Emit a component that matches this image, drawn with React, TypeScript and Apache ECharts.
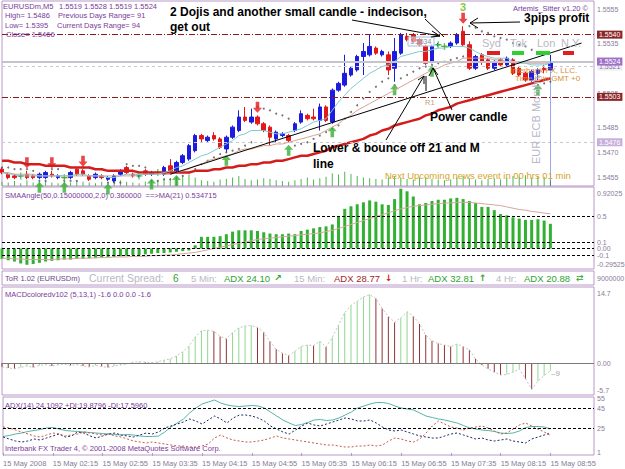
import React, { useEffect, useRef } from 'react';
import * as echarts from 'echarts';

const times = ['01:35','01:40','01:45','01:50','01:55','02:00','02:05','02:10','02:15','02:20','02:25','02:30','02:35','02:40','02:45','02:50','02:55','03:00','03:05','03:10','03:15','03:20','03:25','03:30','03:35','03:40','03:45','03:50','03:55','04:00','04:05','04:10','04:15','04:20','04:25','04:30','04:35','04:40','04:45','04:50','04:55','05:00','05:05','05:10','05:15','05:20','05:25','05:30','05:35','05:40','05:45','05:50','05:55','06:00','06:05','06:10','06:15','06:20','06:25','06:30','06:35','06:40','06:45','06:50','06:55','07:00','07:05','07:10','07:15','07:20','07:25','07:30','07:35','07:40','07:45','07:50','07:55','08:00','08:05','08:10','08:15','08:20','08:25','08:30','08:35','08:40','08:45','08:50','08:55','09:00','09:05','09:10','09:15','09:20','09:25','09:30'];

// [open, close, low, high]
const ohlc = [
[1.5460,1.5458,1.5457,1.5461],[1.5457,1.5455,1.5454,1.5458],[1.5456,1.5455,1.5454,1.5457],[1.5456,1.5456,1.5455,1.5457],[1.5457,1.5455,1.5454,1.5459],
[1.5456,1.5455,1.5454,1.5457],[1.5455,1.5457,1.5454,1.5458],[1.5455,1.5458,1.5454,1.5459],[1.5457,1.5456,1.5455,1.5459],[1.5455,1.5456,1.5454,1.5457],
[1.5455,1.5455,1.5454,1.5456],[1.5455,1.5458,1.5454,1.5459],[1.5460,1.5457,1.5456,1.5461],[1.5459,1.5457,1.5456,1.5460],[1.5456,1.5454,1.5453,1.5457],
[1.5455,1.5457,1.5454,1.5458],[1.5456,1.5455,1.5454,1.5457],[1.5454,1.5455,1.5453,1.5456],[1.5453,1.5456,1.5452,1.5457],[1.5457,1.5459,1.5456,1.5460],
[1.5461,1.5458,1.5457,1.5462],[1.5457,1.5456,1.5455,1.5458],[1.5456,1.5456,1.5455,1.5457],[1.5459,1.5457,1.5456,1.5460],[1.5457,1.5458,1.5456,1.5459],
[1.5458,1.5458,1.5457,1.5459],[1.5457,1.5461,1.5456,1.5462],[1.5462,1.5459,1.5458,1.5466],[1.5459,1.5464,1.5458,1.5465],[1.5464,1.5468,1.5463,1.5469],
[1.5466,1.5474,1.5465,1.5475],[1.5471,1.5480,1.5470,1.5481],[1.5480,1.5478,1.5476,1.5481],[1.5477,1.5479,1.5476,1.5480],[1.5480,1.5478,1.5477,1.5482],
[1.5478,1.5473,1.5472,1.5479],[1.5472,1.5479,1.5470,1.5480],[1.5479,1.5485,1.5478,1.5486],[1.5483,1.5491,1.5482,1.5495],[1.5491,1.5489,1.5488,1.5497],
[1.5488,1.5491,1.5487,1.5496],[1.5491,1.5487,1.5486,1.5492],[1.5487,1.5483,1.5482,1.5488],[1.5485,1.5479,1.5474,1.5486],[1.5478,1.5482,1.5476,1.5483],
[1.5480,1.5481,1.5479,1.5482],[1.5480,1.5477,1.5476,1.5481],[1.5483,1.5487,1.5482,1.5488],[1.5488,1.5493,1.5487,1.5495],[1.5492,1.5490,1.5489,1.5493],
[1.5491,1.5490,1.5489,1.5496],[1.5489,1.5497,1.5483,1.5499],[1.5497,1.5489,1.5488,1.5498],[1.5488,1.5507,1.5487,1.5508],[1.5507,1.5511,1.5506,1.5512],
[1.5510,1.5517,1.5509,1.5528],[1.5516,1.5520,1.5515,1.5521],[1.5519,1.5527,1.5518,1.5528],[1.5527,1.5530,1.5516,1.5535],[1.5528,1.5533,1.5527,1.5540],
[1.5532,1.5529,1.5528,1.5533],[1.5528,1.5530,1.5527,1.5531],[1.5528,1.5519,1.5516,1.5530],[1.5520,1.5530,1.5512,1.5538],[1.5529,1.5540,1.5528,1.5541],
[1.5539,1.5537,1.5536,1.5541],[1.5540,1.5536,1.5535,1.5541],[1.5537,1.5534,1.5533,1.5538],[1.5533,1.5523,1.5522,1.5534],[1.5524,1.5533,1.5523,1.5534],
[1.5534,1.5534,1.5533,1.5535],[1.5533,1.5533,1.5532,1.5534],[1.5533,1.5535,1.5532,1.5536],[1.5535,1.5540,1.5534,1.5541],[1.5542,1.5534,1.5533,1.5545],
[1.5534,1.5520,1.5519,1.5536],[1.5520,1.5527,1.5519,1.5528],[1.5528,1.5524,1.5522,1.5529],[1.5525,1.5520,1.5519,1.5526],[1.5520,1.5524,1.5519,1.5525],
[1.5525,1.5522,1.5521,1.5526],[1.5522,1.5526,1.5521,1.5527],[1.5525,1.5517,1.5516,1.5526],[1.5520,1.5516,1.5515,1.5521],[1.5517,1.5513,1.5512,1.5518],
[1.5513,1.5518,1.5512,1.5519],[1.5517,1.5519,1.5512,1.5520],[1.5520,1.5519,1.5517,1.5522],[1.5519,1.5524,1.5519,1.5528]
];

const dojiIdx = [3, 10, 22, 25, 70, 71];
const buyIdx = [6, 10, 17, 24, 28, 36, 46, 53, 63, 69, 86];
const sellIdx = [4, 8, 13, 41, 74];

const maFast = [1.5458,1.5457,1.5457,1.5456,1.5456,1.5456,1.5456,1.5456,1.5456,1.5456,1.5456,1.5456,1.5457,1.5457,1.5456,1.5456,1.5456,1.5455,1.5455,1.5456,1.5457,1.5457,1.5457,1.5457,1.5457,1.5457,1.5458,1.5459,1.5461,1.5462,1.5464,1.5466,1.5468,1.5469,1.5471,1.5473,1.5475,1.5477,1.5480,1.5481,1.5483,1.5483,1.5483,1.5482,1.5481,1.5481,1.5482,1.5483,1.5484,1.5486,1.5488,1.5489,1.5490,1.5495,1.5500,1.5504,1.5508,1.5511,1.5514,1.5517,1.5519,1.5521,1.5522,1.5524,1.5527,1.5528,1.5529,1.5530,1.5530,1.5531,1.5532,1.5532,1.5533,1.5533,1.5533,1.5532,1.5530,1.5528,1.5527,1.5526,1.5526,1.5526,1.5524,1.5523,1.5523,1.5522,1.5522,1.5522,1.5523];
const maMid = [1.5458,1.5458,1.5457,1.5457,1.5457,1.5457,1.5456,1.5456,1.5456,1.5456,1.5456,1.5456,1.5456,1.5456,1.5456,1.5456,1.5456,1.5456,1.5456,1.5456,1.5456,1.5456,1.5457,1.5457,1.5457,1.5457,1.5457,1.5457,1.5458,1.5459,1.5460,1.5462,1.5463,1.5465,1.5466,1.5467,1.5468,1.5469,1.5471,1.5472,1.5472,1.5473,1.5474,1.5474,1.5475,1.5475,1.5476,1.5477,1.5478,1.5479,1.5480,1.5481,1.5483,1.5485,1.5487,1.5490,1.5492,1.5495,1.5497,1.5499,1.5501,1.5503,1.5505,1.5507,1.5509,1.5511,1.5513,1.5515,1.5517,1.5519,1.5520,1.5522,1.5523,1.5524,1.5526,1.5526,1.5526,1.5526,1.5526,1.5525,1.5525,1.5524,1.5524,1.5524,1.5523,1.5523,1.5523,1.5523,1.5523];
const maSlow = [1.5465,1.5465,1.5464,1.5464,1.5463,1.5463,1.5463,1.5462,1.5462,1.5462,1.5462,1.5461,1.5461,1.5461,1.5461,1.5460,1.5460,1.5459,1.5459,1.5459,1.5459,1.5459,1.5458,1.5458,1.5458,1.5458,1.5458,1.5458,1.5458,1.5458,1.5458,1.5459,1.5459,1.5459,1.5460,1.5460,1.5461,1.5461,1.5462,1.5462,1.5463,1.5463,1.5464,1.5464,1.5465,1.5465,1.5466,1.5467,1.5468,1.5468,1.5469,1.5470,1.5471,1.5473,1.5474,1.5475,1.5476,1.5477,1.5478,1.5480,1.5481,1.5483,1.5484,1.5486,1.5487,1.5488,1.5489,1.5490,1.5492,1.5493,1.5495,1.5496,1.5497,1.5499,1.5500,1.5501,1.5502,1.5503,1.5504,1.5505,1.5506,1.5507,1.5508,1.5509,1.5510,1.5511,1.5512,1.5513,1.5514];
const psar = [1.5461,1.5461,1.5460,1.5460,1.5460,1.5459,1.5453,1.5453,1.5460,1.5460,1.5453,1.5453,1.5453,1.5461,1.5461,1.5460,1.5460,1.5452,1.5452,1.5452,1.5463,1.5462,1.5462,1.5461,1.5453,1.5453,1.5454,1.5454,1.5455,1.5456,1.5458,1.5460,1.5463,1.5465,1.5467,1.5469,1.5470,1.5471,1.5472,1.5474,1.5476,1.5497,1.5496,1.5495,1.5493,1.5492,1.5490,1.5474,1.5475,1.5476,1.5478,1.5480,1.5482,1.5484,1.5486,1.5490,1.5494,1.5498,1.5502,1.5506,1.5509,1.5512,1.5514,1.5510,1.5514,1.5516,1.5518,1.5520,1.5521,1.5522,1.5523,1.5524,1.5525,1.5526,1.5527,1.5545,1.5544,1.5542,1.5541,1.5539,1.5538,1.5537,1.5535,1.5534,1.5533,1.5531,1.5510,1.5511,1.5512];
const volume = [6,5,7,4,8,5,6,7,5,4,6,5,7,6,5,4,6,5,7,8,6,5,4,6,7,8,9,10,12,14,16,12,8,7,6,9,10,12,14,10,8,9,11,10,8,7,6,8,10,12,9,11,13,18,16,20,17,14,12,11,10,9,12,14,11,10,9,12,13,10,9,8,9,12,14,11,9,8,10,11,9,12,14,13,15,12,14,13,8];

const smaAngle = [-0.16,-0.18,-0.20,-0.23,-0.25,-0.24,-0.22,-0.20,-0.19,-0.18,-0.17,-0.17,-0.16,-0.16,-0.15,-0.15,-0.14,-0.13,-0.13,-0.12,-0.11,-0.10,-0.10,-0.09,-0.08,-0.07,-0.07,-0.06,-0.05,-0.04,-0.03,0.05,0.18,0.18,0.18,0.19,0.22,0.26,0.28,0.28,0.28,0.27,0.25,0.23,0.22,0.22,0.23,0.22,0.27,0.29,0.31,0.33,0.34,0.37,0.50,0.61,0.65,0.68,0.71,0.74,0.72,0.68,0.67,0.76,0.92,0.88,0.80,0.68,0.70,0.73,0.75,0.75,0.77,0.78,0.76,0.73,0.70,0.64,0.64,0.59,0.53,0.51,0.48,0.46,0.44,0.44,0.45,0.43,0.38];
const smaAngleMA = [-0.15,-0.15,-0.16,-0.16,-0.17,-0.17,-0.17,-0.17,-0.17,-0.16,-0.16,-0.16,-0.15,-0.15,-0.15,-0.14,-0.14,-0.14,-0.13,-0.13,-0.13,-0.12,-0.12,-0.12,-0.11,-0.11,-0.10,-0.10,-0.09,-0.08,-0.07,-0.06,-0.04,-0.02,0.00,0.02,0.04,0.06,0.08,0.10,0.12,0.14,0.15,0.16,0.17,0.18,0.19,0.20,0.21,0.22,0.23,0.24,0.26,0.28,0.31,0.34,0.37,0.40,0.43,0.46,0.49,0.52,0.55,0.58,0.61,0.63,0.65,0.66,0.67,0.68,0.69,0.70,0.70,0.71,0.71,0.71,0.70,0.69,0.68,0.67,0.66,0.64,0.62,0.60,0.59,0.57,0.56,0.545,0.535];
const smaTicks = ['0.92025', '0.5', '0.1', '0.00', '-0.1', '-0.29525'];

const macd = [-0.8,-1.0,-1.2,-0.9,-0.6,-0.9,-0.5,-0.3,-0.6,-0.4,-0.2,-0.5,-0.3,-0.6,-0.8,-0.5,-0.7,-0.9,-0.6,-0.4,-0.2,0.2,0.3,0.2,0.1,0.3,0.6,0.9,1.5,2.4,3.6,5.5,6.8,6.9,6.7,5.6,5.1,6.4,7.4,7.8,7.9,7.5,6.5,4.6,2.9,2.1,1.6,2.5,3.5,3.8,3.7,4.6,3.4,5.4,8.0,10.6,12.1,13.0,13.9,14.4,13.6,11.5,9.8,8.6,9.5,10.8,9.9,8.2,5.9,4.7,4.1,3.8,3.5,4.0,3.5,2.8,0.9,-0.4,-1.2,-1.9,-2.5,-2.4,-1.9,-1.2,-3.3,-5.5,-3.8,-2.6,-1.6];

const adx = [16.5,17.5,19,20,21.5,22.5,23.5,25,25.5,24,22.5,22,21.5,21,20.5,20,19.5,19,18.5,18,18.5,18,17,16.5,16.5,17,21,26,30,34,40,45,49,51,53,50,48,47,46.5,47,47.5,47,45,41,37,33,30,27.5,28.5,30.5,33,33.5,32.5,33,35,38,41,45,47,49,50.5,50.5,49.5,47,45,44,43,40,37,35.5,34,33,31.5,30,27.5,25,24,23,22.5,21.5,20,19.5,20,22,25.5,26.5,26.5,26,24.1];
const plusDI = [16,14,12,11,12,14,13,15,17,19,16,17,21,20,17,15,17,19,20,18,17,16,18,20,19,21,25,27,29,31,34,32,29,33,37,34,30,35,38,38,37,35,32,27,24,21,19,23,27,30,28,27,29,31,33,35,34,32,32,33,30,26,23,22,23,21,19,17,16,15,15,17,19,20,18,16,14,15,13,12,13,14,12,11,10,14,16,18,19.9];
const minusDI = [26,25,23,21,19,17,16,18,20,19,17,18,19,21,20,19,18,19,17,16,14,12,11,10,11,10,9,8,7,7,6,6,7,9,15,18,15,13,12,11,11,12,13,15,17,15,14,13,12,11,10,9,8,8,7,6,6,7,7,8,7,8,12,15,14,12,11,14,20,27,32,29,26,25,23,25,26,27,25,22,19,20,24,28,30,27,24,21,17.6];

const priceTicks = ['1.5555', '1.5535', '1.5505', '1.5485', '1.5470', '1.5455'];

const FONT = 'Liberation Sans';
const AX = '#8a7a9a';
const BORDER = '#b898c8';
const PURPLE = '#7a3a9a';
const RISE = '#8ed88e';
const FALL = '#8e3434';
const CLEAR = 'rgba(0,0,0,0)';

function txt(x: number, y: number, text: string, fontSize: number, fill: string, extra: any = {}) {
  return { type: 'text', x, y, z: 100, silent: true, style: { text, fontSize, fill, fontFamily: FONT, verticalAlign: 'middle', align: 'left', ...extra } };
}
function seg(x1: number, y1: number, x2: number, y2: number, stroke = '#000') {
  return { type: 'line', z: 100, silent: true, shape: { x1, y1, x2, y2 }, style: { stroke, lineWidth: 1 } };
}
function poly(points: number[][], stroke = '#000') {
  return { type: 'polyline', z: 100, silent: true, shape: { points }, style: { stroke, lineWidth: 1, fill: null } };
}
function box(x: number, y: number, width: number, height: number, fill: string, stroke: any = null) {
  return { type: 'rect', z: 99, silent: true, shape: { x, y, width, height }, style: { fill, stroke } };
}

const grids = [
  { left: 2, top: 1, width: 592, height: 185 },
  { left: 2, top: 187, width: 592, height: 82 },
  { left: 2, top: 287, width: 592, height: 108 },
  { left: 2, top: 397, width: 592, height: 58 },
].map(g => ({ ...g, show: true, borderColor: BORDER, borderWidth: 1, backgroundColor: '#fff' }));

const every8 = (i: number) => i % 8 === 0 && i <= 88;

const xAxes = [0, 1, 2, 3].map(gi => ({
  type: 'category', gridIndex: gi, data: times, boundaryGap: false,
  axisLine: { show: false }, splitLine: { show: false },
  axisTick: gi === 3 ? { show: true, interval: every8, length: 3, lineStyle: { color: BORDER } } : { show: false },
  axisLabel: gi === 3 ? {
    show: true, interval: every8, align: 'left', margin: 4, color: AX, fontSize: 7.5, fontFamily: FONT,
    hideOverlap: false,
    formatter: (v: string, i: number) => (i === 0 ? '15 May 2008' : '15 May ' + v),
  } : { show: false },
}));

const hiddenY = (gi: number, min: number, max: number) => ({
  type: 'value', gridIndex: gi, min, max, position: 'right',
  axisLine: { show: false }, axisTick: { show: false }, axisLabel: { show: false }, splitLine: { show: false },
});

const yAxes = [
  {
    type: 'value', gridIndex: 0, min: 1.545, max: 1.556, interval: 0.0005, position: 'right',
    axisLine: { show: false }, axisTick: { show: false }, splitLine: { show: false },
    axisLabel: {
      color: AX, fontSize: 7, fontFamily: FONT, margin: 3,
      formatter: (v: number) => { const s = v.toFixed(4); return priceTicks.includes(s) ? s : ''; },
    },
  },
  hiddenY(0, 0, 260),
  hiddenY(1, -0.315, 0.946),
  hiddenY(2, -6.7, 16),
  hiddenY(3, -2, 56),
];

const dashBlack = { color: '#000', type: [3, 2], width: 1 };
const noLine = { color: CLEAR, width: 1, type: 'solid' };
const axLabel = { show: true, position: 'end', distance: 3, color: AX, fontSize: 7, fontFamily: FONT };

const idx = (arr: number[]) => arr.map((v, i) => [i, v]);

const series: any[] = [
  { type: 'bar', xAxisIndex: 0, yAxisIndex: 1, data: volume, barWidth: 1, itemStyle: { color: '#4cb84c' }, silent: true },
  { type: 'line', xAxisIndex: 0, yAxisIndex: 0, data: maSlow, symbol: 'none', lineStyle: { color: '#d41c1c', width: 2.5 }, silent: true },
  { type: 'line', xAxisIndex: 0, yAxisIndex: 0, data: maMid, symbol: 'none', lineStyle: { color: '#d6a48e', width: 1 }, silent: true },
  {
    type: 'line', xAxisIndex: 0, yAxisIndex: 0, data: maFast, symbol: 'none', lineStyle: { color: '#7ccad2', width: 1 }, silent: true,
    markLine: {
      symbol: ['none', 'none'], silent: true, animation: false, precision: 5,
      label: { ...axLabel, padding: [1, 2, 0, 2] },
      data: [
        { yAxis: 1.5540, lineStyle: { color: '#8b1c1c', type: [6, 2, 1, 2], width: 1 }, label: { formatter: '1.5540', color: '#fff', backgroundColor: '#8b2626' } },
        { yAxis: 1.5503, lineStyle: { color: '#8b1c1c', type: [6, 2, 1, 2], width: 1 }, label: { formatter: '1.5503', color: '#fff', backgroundColor: '#8b2626' } },
        { yAxis: 1.5476, lineStyle: { color: '#c8c8d2', type: [3, 3], width: 1 }, label: { formatter: '1.5476', color: '#fff', backgroundColor: '#c8b0dc' } },
        { yAxis: 1.5521, lineStyle: { color: '#c8c8d2', type: [3, 3], width: 1 }, label: { formatter: '1.5521', color: AX, backgroundColor: '#eeeef4' } },
        { yAxis: 1.5524, lineStyle: { color: '#c4c4cc', type: 'solid', width: 2 }, label: { formatter: '1.5524', color: '#fff', backgroundColor: '#a070c8' } },
        [{ coord: ['03:50', 1.5457], lineStyle: { color: '#000', type: 'solid', width: 1 }, label: { show: false } }, { coord: ['09:20', 1.5535] }],
        [{ coord: ['08:55', 1.5524], lineStyle: { color: '#3050d0', type: 'dotted', width: 1 }, label: { show: false } }, { coord: ['08:55', 1.5450] }],
      ],
    },
  },
  {
    type: 'candlestick', xAxisIndex: 0, yAxisIndex: 0, data: ohlc, barWidth: 4, silent: true,
    itemStyle: { color: '#1c1ce0', color0: '#e41818', borderColor: '#1c1ce0', borderColor0: '#e41818', borderWidth: 1 },
  },
  { type: 'scatter', xAxisIndex: 0, yAxisIndex: 0, data: idx(psar), symbol: 'circle', symbolSize: 2, itemStyle: { color: '#505058' }, silent: true },
  {
    type: 'scatter', xAxisIndex: 0, yAxisIndex: 0, data: dojiIdx.map(i => [i, ohlc[i][1]]), silent: true,
    symbol: 'path://M4,0 L6,0 L6,4 L10,4 L10,6 L6,6 L6,10 L4,10 L4,6 L0,6 L0,4 L4,4 Z', symbolSize: 7, itemStyle: { color: '#3cc43c' },
  },
  {
    type: 'scatter', xAxisIndex: 0, yAxisIndex: 0, data: buyIdx.map(i => [i, ohlc[i][2]]), silent: true,
    symbol: 'path://M5,0 L10,6 L7,6 L7,13 L3,13 L3,6 L0,6 Z', symbolSize: [9, 11], symbolOffset: [0, 8], symbolKeepAspect: false,
    itemStyle: { color: '#34b034' },
  },
  {
    type: 'scatter', xAxisIndex: 0, yAxisIndex: 0, data: sellIdx.map(i => [i, ohlc[i][3]]), silent: true,
    symbol: 'path://M3,0 L7,0 L7,7 L10,7 L5,13 L0,7 L3,7 Z', symbolSize: [9, 11], symbolOffset: [0, -8], symbolKeepAspect: false,
    itemStyle: { color: '#e41818' },
  },
  {
    type: 'bar', xAxisIndex: 1, yAxisIndex: 2, data: smaAngle, barWidth: 3, itemStyle: { color: '#32b032' }, silent: true,
    markLine: {
      symbol: ['none', 'none'], silent: true, animation: false, precision: 5, label: axLabel,
      data: [
        { yAxis: 0.5, lineStyle: dashBlack, label: { formatter: smaTicks[1] } },
        { yAxis: 0.1, lineStyle: dashBlack, label: { formatter: smaTicks[2] } },
        { yAxis: 0, lineStyle: dashBlack, label: { formatter: smaTicks[3] } },
        { yAxis: -0.1, lineStyle: dashBlack, label: { formatter: smaTicks[4] } },
        { yAxis: 0.84, lineStyle: noLine, label: { formatter: smaTicks[0] } },
        { yAxis: -0.25, lineStyle: noLine, label: { formatter: smaTicks[5] } },
      ],
    },
  },
  { type: 'line', xAxisIndex: 1, yAxisIndex: 2, data: smaAngleMA, symbol: 'none', lineStyle: { color: '#d6a6a0', width: 1 }, silent: true },
  {
    type: 'bar', xAxisIndex: 2, yAxisIndex: 3, barWidth: 1, silent: true,
    data: macd.map((v, i) => ({ value: v, itemStyle: { color: i > 0 && v > macd[i - 1] ? RISE : FALL } })),
    markLine: {
      symbol: ['none', 'none'], silent: true, animation: false, precision: 5, label: axLabel,
      data: [
        { yAxis: 0, lineStyle: { color: '#7a7a7a', type: 'solid', width: 1 }, label: { formatter: '0.00' } },
        { yAxis: 14.7, lineStyle: noLine, label: { formatter: '14.7' } },
        { yAxis: -5.7, lineStyle: noLine, label: { formatter: '-5.7' } },
      ],
    },
  },
  { type: 'line', xAxisIndex: 2, yAxisIndex: 3, data: macd, symbol: 'none', lineStyle: { color: '#c4c4c4', width: 1, type: [2, 2] }, silent: true },
  {
    type: 'line', xAxisIndex: 3, yAxisIndex: 4, data: adx, symbol: 'none', lineStyle: { color: '#58b4a6', width: 1 }, silent: true,
    markLine: {
      symbol: ['none', 'none'], silent: true, animation: false, precision: 5, label: axLabel,
      data: [
        { yAxis: 45, lineStyle: dashBlack, label: { formatter: '45' } },
        { yAxis: 25, lineStyle: dashBlack, label: { formatter: '25' } },
        { yAxis: 55, lineStyle: noLine, label: { formatter: '55' } },
        { yAxis: 1, lineStyle: noLine, label: { formatter: '1' } },
      ],
    },
  },
  { type: 'line', xAxisIndex: 3, yAxisIndex: 4, data: plusDI, symbol: 'none', lineStyle: { color: '#1c2a66', width: 1, type: [2, 2] }, silent: true },
  { type: 'line', xAxisIndex: 3, yAxisIndex: 4, data: minusDI, symbol: 'none', lineStyle: { color: '#c45a48', width: 1, type: [2, 2] }, silent: true },
];

const GRAY = '#b8b8c2';
const GREEN = '#2ea42e';
const bold = { fontWeight: 'bold' };
const arrowFont = { fontFamily: 'DejaVu Sans', fontWeight: 'bold' };

const graphics: any[] = [
  // info block
  txt(3, 6, 'EURUSDm,M5', 7.5, PURPLE), txt(59, 6, '1.5519 1.5528 1.5519 1.5524', 7.5, PURPLE),
  txt(5, 15, 'High= 1.5486', 7.5, PURPLE), txt(58, 15, 'Previous Days Range= 91', 7.5, PURPLE),
  txt(5, 25, 'Low= 1.5395', 7.5, PURPLE), txt(57, 25, 'Current Days Range= 94', 7.5, PURPLE),
  txt(6, 34, 'Close= 1.5466', 7.5, PURPLE),
  txt(513, 8, 'Artemis_Sitter v1.20 \u00a9', 7.5, PURPLE),
  // annotations
  txt(170, 12, '2 Dojis and another small candle - indecison,', 12, '#000', bold),
  txt(170, 27, 'get out', 12, '#000', bold),
  txt(524, 18, '3pips profit', 12, '#000', bold),
  txt(430, 117, 'Power candle', 12, '#000', bold),
  txt(313, 148, 'Lower & bounce off 21 and M', 12, '#000', bold),
  txt(313, 164, 'line', 12, '#000', bold),
  seg(352, 20, 440, 36), poly([[432, 31], [440, 36], [431, 37]]),
  seg(425, 19, 444, 37),
  seg(520, 22, 470, 23), poly([[478, 18], [470, 23], [478, 28]]),
  seg(452, 110, 433, 68), poly([[429, 76], [433, 68], [438, 75]]),
  seg(386, 140, 424, 76), poly([[418, 80], [424, 76], [424, 84]]),
  seg(426, 76, 426, 91),
  txt(460, 7, '3', 11, '#8cc83c', bold),
  txt(425, 102, 'R1', 7.5, '#c89878'),
  box(408, 37, 26, 9, 'rgba(255,255,255,0.5)', '#9cc0e0'),
  txt(410, 41.5, '1.5534', 7, '#8a8aa0'),
  // sessions
  txt(482, 43, 'Syd', 11, GRAY), txt(510, 43, 'Tok', 11, GRAY), txt(537, 43, 'Lon', 11, GRAY), txt(561, 43, 'N.Y.', 11, GRAY),
  box(487, 51, 13, 4, '#e02020'), box(512, 51, 12, 4, '#30d030'), box(536, 51, 14, 4, '#30d030'), box(563, 51, 11, 4, '#e02020'),
  txt(510, 70, 'Interbank FX, LLC.', 8, '#d89030'),
  txt(515, 78, 'Time is in GMT +0', 8, '#d89030'),
  { type: 'text', x: 536, y: 164, z: 100, silent: true, rotation: Math.PI / 2, style: { text: 'EUR ECB Monthly', fontSize: 11, fill: '#b8b8c8', fontFamily: FONT, align: 'left', verticalAlign: 'middle' } },
  txt(385, 175, 'Next Upcoming news event in 00 hrs 01 min', 9.5, '#d4a52a'),
  // pane titles
  txt(5, 195, 'SMAAngle(50,0.15000000,2,0) 0.360000  ==>MA(21) 0.534715', 7.5, PURPLE),
  box(2, 271, 592, 14, '#fff', BORDER),
  txt(5, 278, 'ToR 1.02 (EURUSDm)', 7.5, '#6a4a8a'),
  txt(89, 278, 'Current Spread:', 10.5, GRAY), txt(173, 278, '6', 10, GREEN),
  txt(191, 278, '5 Min:', 9.5, GRAY), txt(224, 278, 'ADX 24.10', 9.5, GREEN), txt(274, 278, '\u2197', 9, GREEN, arrowFont),
  txt(294, 278, '15 Min:', 9.5, GRAY), txt(334, 278, 'ADX 28.77', 9.5, '#a02828'), txt(385, 278, '\u2193', 9, '#d82020', arrowFont),
  txt(402, 278, '1 Hr:', 9.5, GRAY), txt(428, 278, 'ADX 32.81', 9.5, GREEN), txt(479, 278, '\u2191', 9, GREEN, arrowFont),
  txt(496, 278, '4 Hr:', 9.5, GRAY), txt(524, 278, 'ADX 20.88', 9.5, GREEN), txt(576, 278, '\u21c4', 9, GREEN, { fontFamily: 'DejaVu Sans' }),
  txt(597, 278, '9000000', 7, AX),
  txt(5, 294, 'MACDcoloredv102 (5,13,1) -1.6 0.0 0.0 -1.6', 7.5, PURPLE),
  txt(551, 373, '\u20139', 8, '#a8a8a8'),
  txt(5, 405, 'ADX(14) 24.1092 +DI:19.8796 -DI:17.5960', 7.5, PURPLE),
  txt(5, 448, 'Interbank FX Trader 4, \u00a9 2001-2008 MetaQuotes Software Corp.', 7.5, PURPLE),
];

const option: any = {
  animation: false,
  backgroundColor: '#fff',
  textStyle: { fontFamily: FONT },
  grid: grids,
  xAxis: xAxes,
  yAxis: yAxes,
  series,
  graphic: graphics,
};

export default function App() {
  const ref = useRef<HTMLDivElement>(null);
  useEffect(() => {
    const chart = echarts.init(ref.current as HTMLDivElement, null, { renderer: 'svg' });
    chart.setOption(option);
    return () => chart.dispose();
  }, []);
  return <div ref={ref} style={{ position: 'fixed', left: 0, top: 0, width: 625, height: 469, background: '#fff' }} />;
}
